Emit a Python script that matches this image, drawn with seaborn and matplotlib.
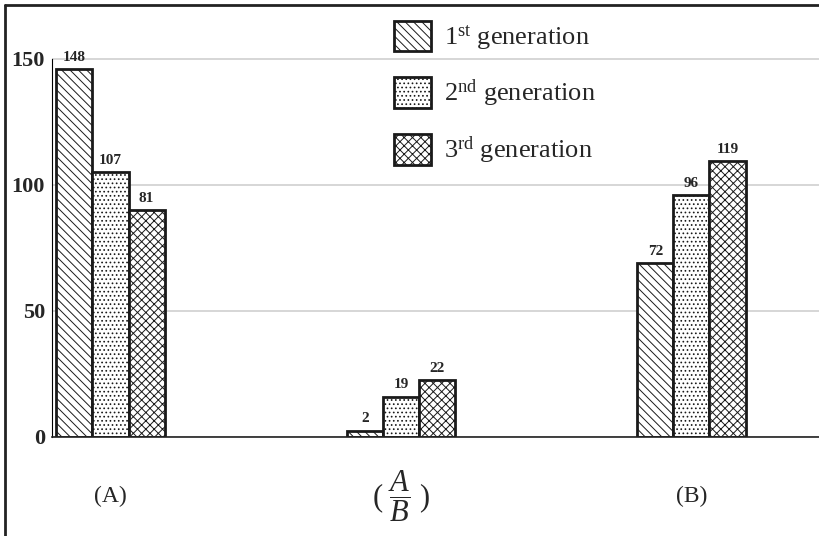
import numpy as np
import pandas as pd
import matplotlib
matplotlib.use("Agg")
import matplotlib.pyplot as plt
from matplotlib.lines import Line2D
import seaborn as sns

# values
groups = ["(A)", r"( $\dfrac{A}{B}$ )", "(B)"]
generations = [r"1$^{\rm st}$ generation", r"2$^{\rm nd}$ generation", r"3$^{\rm rd}$ generation"]
# bar heights as drawn
gen1_heights = [146, 2.5, 69]
gen2_heights = [105, 16, 96]
gen3_heights = [90, 22.5, 109.5]
# numbers printed above the bars
gen1_labels = [148, 2, 72]
gen2_labels = [107, 19, 96]
gen3_labels = [81, 22, 119]
yticks = [0, 50, 100, 150]

heights = [gen1_heights, gen2_heights, gen3_heights]
labels = [gen1_labels, gen2_labels, gen3_labels]
df = pd.DataFrame({
    "group": groups * 3,
    "generation": np.repeat(generations, len(groups)),
    "height": np.concatenate(heights),
})

sns.set_style("white")
plt.rcParams["font.family"] = ["Liberation Serif", "DejaVu Serif"]
plt.rcParams["mathtext.fontset"] = "custom"
plt.rcParams["mathtext.rm"] = "Liberation Serif"
plt.rcParams["mathtext.it"] = "Liberation Serif:italic"
plt.rcParams["mathtext.bf"] = "Liberation Serif:bold"
plt.rcParams["hatch.linewidth"] = 0.7
plt.rcParams["hatch.color"] = "black"

fig = plt.figure(figsize=(8.19, 5.36), dpi=100)
ax = fig.add_axes([52 / 819, 1 - 437 / 536, 767 / 819, 428.4 / 536])

sns.barplot(data=df, x="group", y="height", hue="generation", order=groups,
            hue_order=generations, palette=["white"] * 3, saturation=1,
            edgecolor="#1a1a1a", linewidth=2, width=0.372, gap=0,
            legend=False, ax=ax)

hatches = ["\\\\\\\\", "....", "xxxx"]
for cont, h, labs in zip(ax.containers, hatches, labels):
    for bar in cont:
        bar.set_hatch(h)
    ax.bar_label(cont, labels=[str(v) for v in labs], padding=4,
                 fontsize=11, fontweight="bold")

# axes styling
ax.set_xlim(-0.2014, 2.439)
ax.set_ylim(0, 170)
ax.set_yticks(yticks)
ax.set_yticklabels([str(t) for t in yticks], fontsize=16, fontweight="bold")
ax.tick_params(axis="y", length=0, pad=5)
ax.tick_params(axis="x", length=0, pad=43, labelsize=17)
xlabs = ax.get_xticklabels()
for lab in xlabs:
    lab.set_verticalalignment("center")
xlabs[1].set_fontsize(22)
ax.set_xlabel("")
ax.set_ylabel("")
ax.grid(axis="y", color="#cccccc", linewidth=1.1)
ax.set_axisbelow(True)
for s in ["top", "right"]:
    ax.spines[s].set_visible(False)
ax.spines["left"].set_bounds(0, 150)
ax.spines["left"].set_color("black")
ax.spines["left"].set_linewidth(0.8)
ax.spines["bottom"].set_color("#222222")
ax.spines["bottom"].set_linewidth(1.2)

# legend with hatched squares
handles = [cont.patches[0] for cont in ax.containers]
ax.legend(handles, generations, loc="upper left",
          bbox_to_anchor=(394 / 819, 1 - 20.7 / 536),
          bbox_transform=fig.transFigure, frameon=False, fontsize=19,
          handlelength=1.39, handleheight=1.39, handletextpad=0.5,
          labelspacing=0.95, borderpad=0, borderaxespad=0)

# page frame on top and left
fig.add_artist(Line2D([5 / 819, 1], [1 - 5 / 536, 1 - 5 / 536],
                      transform=fig.transFigure, color="#222222", lw=2))
fig.add_artist(Line2D([5 / 819, 5 / 819], [0, 1 - 5 / 536],
                      transform=fig.transFigure, color="#222222", lw=2))

fig.savefig("out.png", dpi=100)
